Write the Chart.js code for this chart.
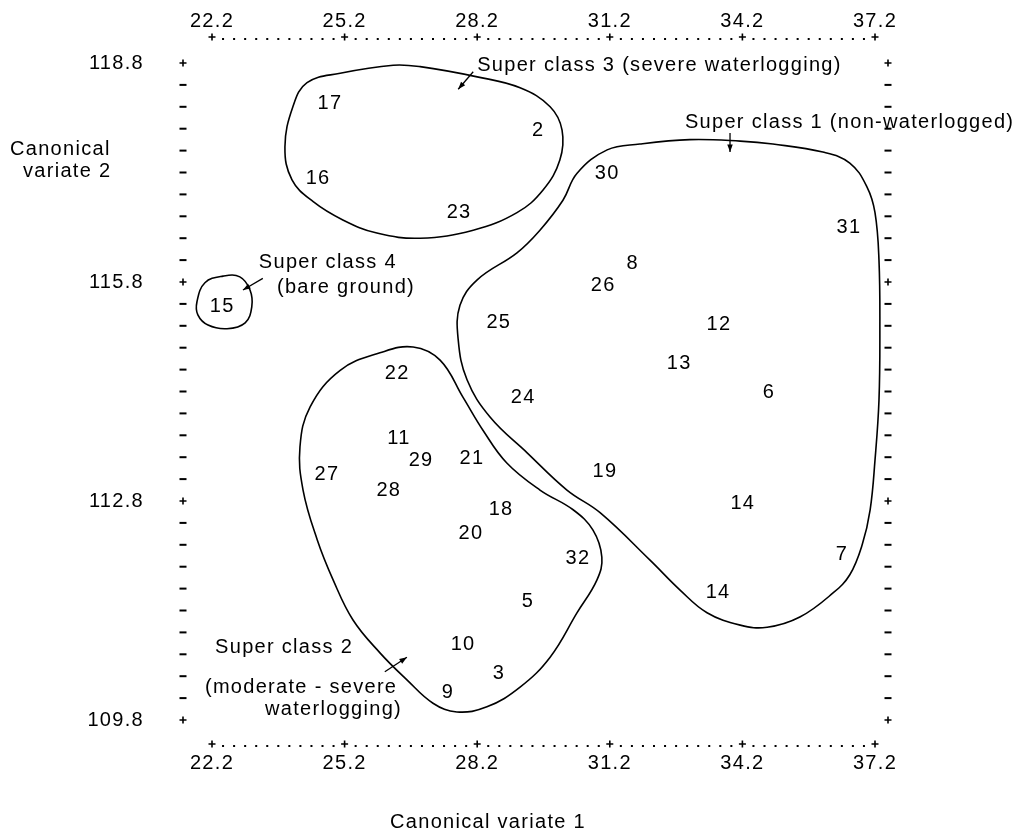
<!DOCTYPE html>
<html>
<head>
<meta charset="utf-8">
<script src="https://cdn.jsdelivr.net/npm/chart.js@4.4.1/dist/chart.umd.min.js"></script>
<style>
  body { margin: 0; background: #fff; }
  canvas { display: block; }
</style>
</head>
<body>
<canvas id="chart" width="1016" height="829"></canvas>
<script>
// site numbers and their canonical variate scores
const siteIds = ['17', '2', '16', '23', '30', '31', '8', '26', '25', '12', '13', '6', '24', '22', '11', '29',
  '21', '27', '28', '19', '18', '14', '20', '32', '7', '5', '14', '10', '3', '9', '15'];
const cv1 = [24.87, 29.58, 24.60, 27.79, 31.14, 36.61, 31.72, 31.05, 28.69, 33.67, 32.77, 34.80, 29.24, 26.39, 26.43, 26.93,
  28.08, 24.80, 26.20, 31.09, 28.74, 34.21, 28.06, 30.48, 36.45, 29.35, 33.65, 27.88, 28.69, 27.54, 22.43];
const cv2 = [118.24, 117.88, 117.22, 116.75, 117.29, 116.55, 116.06, 115.75, 115.25, 115.22, 114.69, 114.28, 114.22, 114.55, 113.65, 113.36,
  113.38, 113.16, 112.95, 113.20, 112.69, 112.76, 112.35, 112.01, 112.07, 111.42, 111.54, 110.83, 110.44, 110.18, 115.46];

// tick labels
const xTicks = [22.2, 25.2, 28.2, 31.2, 34.2, 37.2];
const yTicks = [109.8, 112.8, 115.8, 118.8];
const xMinorStep = 0.25;
const yMinorStep = 0.3;

// super class boundaries
const class1X = [37.31, 37.29, 37.20, 37.09, 36.91, 36.63, 36.25, 35.50, 34.76, 34.15, 33.40, 32.79, 32.11, 30.98, 30.23, 29.33, 28.49, 27.97,
  27.77, 27.81, 28.20, 29.10, 29.62, 30.14, 30.46, 31.14, 31.88, 33.01, 34.15, 34.89, 36.02, 36.63, 37.02, 37.20, 37.29];
const class1Y = [115.14, 114.18, 113.36, 112.68, 112.20, 111.79, 111.54, 111.21, 111.07, 111.10, 111.27, 111.58, 111.99, 112.64, 112.95, 113.46, 113.95, 114.46,
  115.01, 115.48, 115.83, 116.20, 116.51, 116.92, 117.29, 117.61, 117.69, 117.75, 117.73, 117.69, 117.58, 117.43, 117.10, 116.75, 116.10];
const class2X = [24.19, 24.26, 24.58, 24.94, 25.39, 26.00, 26.61, 27.20, 27.74, 28.42, 29.17, 29.85, 30.46, 30.91, 31.02, 30.82, 30.37,
  29.62, 28.87, 28.33, 27.88, 27.36, 26.75, 26.00, 25.10, 24.42];
const class2Y = [113.54, 112.95, 112.27, 111.72, 111.17, 110.72, 110.35, 110.03, 109.91, 109.98, 110.25, 110.66, 111.27, 111.72, 112.03, 112.40, 112.68,
  112.95, 113.32, 113.77, 114.22, 114.73, 114.91, 114.83, 114.59, 114.09];
const class3X = [23.85, 24.03, 24.35, 25.10, 26.30, 26.91, 28.20, 29.17, 29.85, 30.12, 30.07, 29.69, 29.10, 28.11, 26.91, 25.93, 25.16, 24.49, 24.01];
const class3Y = [117.65, 118.20, 118.53, 118.66, 118.77, 118.75, 118.61, 118.46, 118.20, 117.88, 117.47, 117.06, 116.75, 116.51, 116.40, 116.47, 116.65, 116.90, 117.20];
const class4X = [21.86, 22.04, 22.45, 22.83, 23.06, 23.10, 22.95, 22.54, 22.11, 21.88];
const class4Y = [115.53, 115.79, 115.88, 115.87, 115.69, 115.46, 115.24, 115.16, 115.21, 115.35];

// labels and arrows pointing at the boundaries
const notes = [
  { text: 'Super class 3 (severe waterlogging)', x: 28.20, y: 118.76, align: 'left' },
  { text: 'Super class 1 (non-waterlogged)', x: 32.90, y: 117.99, align: 'left' },
  { text: 'Super class 4', x: 23.26, y: 116.07, align: 'left' },
  { text: '(bare ground)', x: 23.67, y: 115.72, align: 'left' },
  { text: 'Super class 2', x: 22.27, y: 110.79, align: 'left' },
  { text: '(moderate - severe', x: 22.04, y: 110.24, align: 'left' },
  { text: 'waterlogging)', x: 26.50, y: 109.94, align: 'right' }
];
const arrows = [
  { from: [28.11, 118.68], to: [27.77, 118.44] },
  { from: [33.92, 117.84], to: [33.92, 117.58] },
  { from: [23.35, 115.85], to: [22.90, 115.69] },
  { from: [26.11, 110.46], to: [26.61, 110.66] }
];

const INK = '#000';
const FONT = '20px "Liberation Sans", Arial, sans-serif';

const toPoints = (xs, ys) => xs.map((v, i) => ({ x: v, y: ys[i] }));

const boundary = (xs, ys) => ({
  data: toPoints(xs, ys),
  loop: true,
  showLine: true,
  borderColor: INK,
  borderWidth: 1.6,
  pointRadius: 0,
  tension: 0.4,
  fill: false,
  clip: false
});

// close the boundary lines smoothly (same trick the radar controller uses)
const closeLoops = {
  id: 'closeLoops',
  afterDatasetsUpdate(chart) {
    chart.data.datasets.forEach((ds, i) => {
      if (!ds.loop) return;
      const line = chart.getDatasetMeta(i).dataset;
      line._loop = true;
      line._fullLoop = true;
      line._pointsUpdated = false;
      delete line._segments;
      delete line._path;
    });
  }
};

const figure = {
  id: 'figure',
  beforeDraw(chart) {
    chart.ctx.letterSpacing = '1.3px';
  },
  afterDatasetsDraw(chart) {
    const { ctx, chartArea: a, scales: { x, y } } = chart;
    ctx.save();
    ctx.fillStyle = INK;
    ctx.strokeStyle = INK;

    const plus = (px, py) => {
      ctx.lineWidth = 1.6;
      ctx.beginPath();
      ctx.moveTo(px - 3.5, py); ctx.lineTo(px + 3.5, py);
      ctx.moveTo(px, py - 3.5); ctx.lineTo(px, py + 3.5);
      ctx.stroke();
    };

    // left and right tick rows
    const leftX = a.left - 29, rightX = a.right + 13;
    const ySteps = Math.round((yTicks[yTicks.length - 1] - yTicks[0]) / yMinorStep);
    const yPer = Math.round((yTicks[1] - yTicks[0]) / yMinorStep);
    for (let i = 0; i <= ySteps; i++) {
      const py = y.getPixelForValue(yTicks[0] + i * yMinorStep);
      [leftX, rightX].forEach(px => {
        if (i % yPer === 0) plus(px, py);
        else ctx.fillRect(px - 3.5, py - 1, 7, 2);
      });
    }
    // top and bottom dotted rows
    const topY = a.top - 25, botY = a.bottom + 25;
    const xSteps = Math.round((xTicks[xTicks.length - 1] - xTicks[0]) / xMinorStep);
    const xPer = Math.round((xTicks[1] - xTicks[0]) / xMinorStep);
    for (let i = 0; i <= xSteps; i++) {
      const px = x.getPixelForValue(xTicks[0] + i * xMinorStep);
      [topY, botY].forEach(py => {
        if (i % xPer === 0) plus(px, py - 1);
        else ctx.fillRect(px - 1, py, 2, 2);
      });
    }

    // tick labels
    ctx.font = FONT;
    ctx.textBaseline = 'middle';
    ctx.textAlign = 'center';
    xTicks.forEach(v => {
      const px = x.getPixelForValue(v);
      ctx.fillText(v.toFixed(1), px, a.top - 42);
      ctx.fillText(v.toFixed(1), px, a.bottom + 43);
    });
    ctx.textAlign = 'right';
    yTicks.forEach(v => ctx.fillText(v.toFixed(1), a.left - 68, y.getPixelForValue(v)));

    // site numbers
    ctx.textAlign = 'center';
    chart.getDatasetMeta(0).data.forEach((pt, i) => ctx.fillText(siteIds[i], pt.x, pt.y));

    // notes
    notes.forEach(n => {
      ctx.textAlign = n.align;
      ctx.fillText(n.text, x.getPixelForValue(n.x), y.getPixelForValue(n.y));
    });

    // arrows
    ctx.lineWidth = 1.3;
    arrows.forEach(ar => {
      const x1 = x.getPixelForValue(ar.from[0]), y1 = y.getPixelForValue(ar.from[1]);
      const x2 = x.getPixelForValue(ar.to[0]), y2 = y.getPixelForValue(ar.to[1]);
      const ang = Math.atan2(y2 - y1, x2 - x1);
      ctx.beginPath();
      ctx.moveTo(x1, y1); ctx.lineTo(x2, y2);
      ctx.stroke();
      ctx.beginPath();
      ctx.moveTo(x2, y2);
      ctx.lineTo(x2 - 8 * Math.cos(ang - 0.35), y2 - 8 * Math.sin(ang - 0.35));
      ctx.lineTo(x2 - 8 * Math.cos(ang + 0.35), y2 - 8 * Math.sin(ang + 0.35));
      ctx.closePath();
      ctx.fill();
    });

    // axis titles
    ctx.textAlign = 'center';
    ctx.fillText('Canonical variate 1', 488, 822);
    ctx.textAlign = 'left';
    ctx.fillText('Canonical', 10, 149);
    ctx.fillText('variate 2', 23, 171);
    ctx.restore();
  }
};

new Chart(document.getElementById('chart'), {
  type: 'scatter',
  data: {
    datasets: [
      { data: toPoints(cv1, cv2), pointRadius: 0, showLine: false },
      boundary(class1X, class1Y),
      boundary(class2X, class2Y),
      boundary(class3X, class3Y),
      boundary(class4X, class4Y)
    ]
  },
  options: {
    responsive: false,
    animation: false,
    // plot box sits inside the four tick rows
    layout: { padding: { left: 212, right: 141, top: 63, bottom: 109 } },
    elements: { line: { capBezierPoints: false } },
    plugins: { legend: { display: false }, tooltip: { enabled: false } },
    scales: {
      x: { type: 'linear', display: false, min: xTicks[0], max: xTicks[xTicks.length - 1] },
      y: { type: 'linear', display: false, min: yTicks[0], max: yTicks[yTicks.length - 1] }
    }
  },
  plugins: [closeLoops, figure]
});
</script>
</body>
</html>
